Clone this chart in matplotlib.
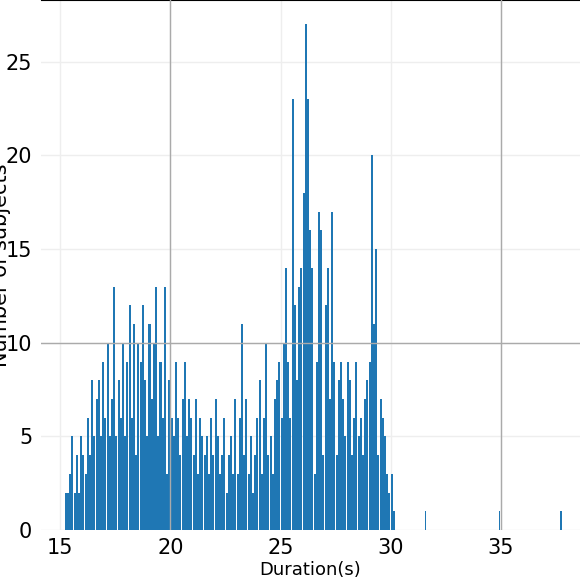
import numpy as np
import matplotlib
matplotlib.use("Agg")
import matplotlib.pyplot as plt

bin_start = 15.2
bin_width = 0.1
counts = [2,2,3,5,2,4,2,5,4,
          3,6,4,8,5,7,8,5,9,6,
          10,5,7,13,5,8,6,10,5,9,
          12,6,11,4,10, 9,12,8,5,11, 7,10,13,5,9, 6,13,3,8,6,
          5,9,6,4,7, 9,5,7,6,4, 7,3,6,5,4, 5,3,6,4,7,
          5,3,4,6,2, 4,5,3,7,3, 6,11,4,7,3, 5,2,4,6,8,
          3,6,10,4,5, 3,7,8,9,6, 10,14,9,6,23, 12,8,13,14,18,
          27,23,16,14,3, 9,17,16,4,12, 14,7,17,9,4, 8,9,7,5,9,
          8,4,6,9,5, 6,4,7,8,9, 20,11,15,4,7, 6,5,3,2,3, 1]
outlier_x = [31.55, 34.9, 37.7]
outlier_counts = [1, 1, 1]

fig = plt.figure(figsize=(5.8, 5.8), dpi=100)
ax = fig.add_axes([0.07, 0.086, 0.93, 0.914])
lefts = bin_start + bin_width * np.arange(len(counts))
ax.bar(lefts, counts, width=bin_width * 0.92, align='edge', color='#1f77b4', zorder=2)
ax.bar(outlier_x, outlier_counts, width=0.07, align='edge', color='#1f77b4', zorder=2)

ax.set_xlim(14.1, 38.6)
ax.set_ylim(0, 28.3)
ax.set_xticks([15, 20, 25, 30, 35])
ax.set_yticks([0, 5, 10, 15, 20, 25])
ax.grid(True, color='#eeeeee', linewidth=1, zorder=0)
for xv in [20, 35]:
    ax.axvline(xv, color='#aaaaaa', linewidth=1, zorder=3)
ax.axhline(10, color='#aaaaaa', linewidth=1, zorder=3)
for s in ['left', 'right', 'bottom']:
    ax.spines[s].set_visible(False)
ax.spines['top'].set_color('black')
ax.tick_params(length=0, labelsize=15, pad=6)
ax.set_xlabel('Duration(s)', fontsize=13)
ax.xaxis.set_label_coords(0.5, -0.058)
ax.set_ylabel('Number of subjects', fontsize=15)
ax.yaxis.set_label_coords(-0.055, 0.5)
fig.savefig('out.png', dpi=100)
